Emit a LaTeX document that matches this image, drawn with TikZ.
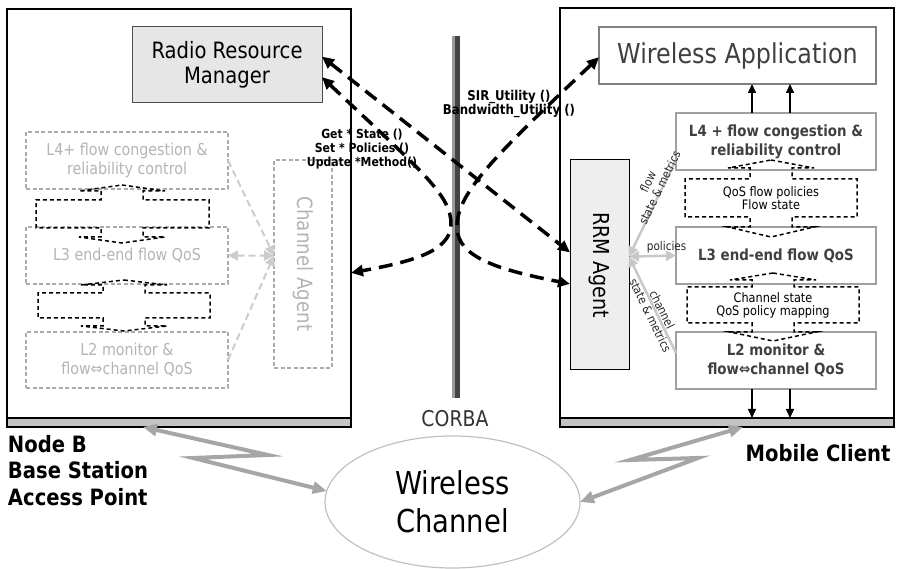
\documentclass[tikz,border=0pt]{standalone}
\usepackage{fontspec}
\setmainfont{DejaVu Sans}[FakeStretch=0.87]
\usetikzlibrary{arrows.meta,calc,shapes.geometric}
\definecolor{lgtext}{HTML}{B4B4B4}
\definecolor{lgline}{HTML}{AAAAAA}
\definecolor{rline}{HTML}{A0A0A0}
\definecolor{dtext}{HTML}{404040}
\definecolor{boxfill}{HTML}{E6E6E6}
\definecolor{agfill}{HTML}{EEEEEE}
\definecolor{garr}{HTML}{C8C8C8}
\definecolor{gdashc}{HTML}{CCCCCC}
\definecolor{zigc}{HTML}{A6A6A6}
\definecolor{barfill}{HTML}{C4C4C4}
\definecolor{ellc}{HTML}{C0C0C0}
\definecolor{corbad}{HTML}{444444}
\definecolor{corbal}{HTML}{9A9A9A}
\newcommand{\setfs}[2]{\fontsize{#1}{#2}\selectfont}
\newcommand{\udcallout}[9]{%
  \draw[callout] (#1,#7) -- (#1+43,#6) -- (#1+21,#6) -- (#1+21,#4) -- (#3,#4) -- (#3,#5)
    -- (#1+21,#5) -- (#1+21,#8) -- (#1+43,#8) -- (#1,#9) -- (#1-43,#8) -- (#1-21,#8)
    -- (#1-21,#5) -- (#2,#5) -- (#2,#4) -- (#1-21,#4) -- (#1-21,#6) -- (#1-43,#6) -- cycle;}
\begin{document}
\begin{tikzpicture}[x=1pt,y=-1pt,
  every node/.style={inner sep=0pt, outer sep=0pt},
  frame/.style={draw=black, line width=2pt},
  basebar/.style={draw=black, fill=barfill, line width=1.2pt},
  lbox/.style={draw=lgline, line width=1.5pt, dash pattern=on 4pt off 2.5pt, text=lgtext, align=center, font=\setfs{16.4}{19}},
  rbox/.style={draw=rline, line width=2.5pt, fill=white, text=dtext, align=center, font=\bfseries\setfs{15.4}{19}},
  callout/.style={draw=black, line width=1.5pt, dash pattern=on 4pt off 3pt},
  bigdash/.style={draw=black, line width=3.5pt, dash pattern=on 14pt off 8pt, {Triangle[length=12pt,width=11pt]}-{Triangle[length=12pt,width=11pt]}},
  garrowR/.style={draw=garr, line width=2.5pt, -{Triangle[length=10pt,width=10pt]}},
  garrowB/.style={draw=garr, line width=2.5pt, {Triangle[length=10pt,width=10pt]}-{Triangle[length=10pt,width=10pt]}},
  gdashR/.style={draw=gdashc, line width=2pt, dash pattern=on 7pt off 4pt, -{Triangle[length=10pt,width=10pt]}},
  gdashB/.style={draw=gdashc, line width=2pt, dash pattern=on 7pt off 4pt, {Triangle[length=10pt,width=10pt]}-{Triangle[length=10pt,width=10pt]}},
  blk/.style={draw=black, line width=1.5pt, -{Triangle[length=9pt,width=8pt]}},
  zig/.style={draw=zigc, line width=4pt, {Triangle[length=14pt,width=12pt]}-{Triangle[length=14pt,width=12pt]}},
  lbl/.style={font=\setfs{12}{13}, text=black!85, align=center},
  mlbl/.style={font=\bfseries\setfs{12.5}{14}, text=black, align=center}
]
\useasboundingbox (0,0) rectangle (898,569);

% panels
\node[frame, minimum width=344pt, minimum height=409pt] (lp) at (179,213.5) {};
\node[basebar, minimum width=344pt, minimum height=9pt] (lb) at (179,422.5) {};
\node[frame, minimum width=334pt, minimum height=410pt] (rp) at (727,213) {};
\node[basebar, minimum width=334pt, minimum height=9pt] (rb) at (727,422.5) {};

% CORBA bus
\node[fill=corbad, minimum width=8pt, minimum height=362pt] (cb) at (456,217) {};
\fill[corbal] (cb.north west) rectangle ([xshift=2.5pt]cb.south west);
\node[text=black!80, font=\setfs{21.7}{26}] (corba) at (455,419) {CORBA};

% left side
\node[draw=black!70, fill=boxfill, line width=1pt, minimum width=190pt, minimum height=76pt, align=center, font=\setfs{22.5}{25}] (rrm) at (227,65) {Radio Resource\\Manager};
\node[lbox, minimum width=202pt, minimum height=57pt] (l4L) at (127,160.5) {L4+ flow congestion \&\\reliability control};
\node[lbox, minimum width=202pt, minimum height=57pt] (l3L) at (127,255.5) {L3 end-end flow QoS};
\node[lbox, minimum width=202pt, minimum height=56pt] (l2L) at (127,360) {L2 monitor \&\\flow⇔channel QoS};
\node[lbox, minimum width=58pt, minimum height=208pt] (ca) at (303,264) {};
\node[text=lgtext, rotate=-90, font=\setfs{21}{25}] (caT) at (ca.center) {Channel Agent};

% right side
\node[draw=black!50, line width=1.2pt, minimum width=277pt, minimum height=57pt, text=dtext, font=\setfs{27.4}{32}] (wa) at (737.5,55.5) {Wireless Application};
\node[rbox, minimum width=200pt, minimum height=57pt] (l4R) at (776,141.5) {L4 + flow congestion \&\\reliability control};
\node[rbox, minimum width=200pt, minimum height=57pt] (l3R) at (776,255.5) {L3 end-end flow QoS};
\node[rbox, minimum width=200pt, minimum height=57pt] (l2R) at (776,360.5) {L2 monitor \&\\flow⇔channel QoS};
\node[draw=black, fill=agfill, line width=1pt, minimum width=59pt, minimum height=210pt] (agent) at (599.5,265) {};
\node[rotate=-90, font=\setfs{22}{26}] (agentT) at (agent.center) {RRM Agent};

% wireless channel
\node[ellipse, draw=ellc, line width=1.2pt, minimum width=255pt, minimum height=132pt, align=center, font=\setfs{31.5}{38}] (ell) at (452.5,502) {Wireless\\Channel};

% up/down callouts
\udcallout{122}{36}{209}{200}{228}{191}{185}{237}{243}
\udcallout{124}{38}{210}{293}{318}{285}{280}{326}{331}
\udcallout{771}{685}{857}{179}{217}{168}{160}{227}{237}
\udcallout{773}{687}{859}{287}{323}{280}{273}{332}{341}
\node[font=\setfs{13}{13}, align=center] (cq1) at (771,198) {QoS flow policies\\Flow state};
\node[font=\setfs{13}{13}, align=center] (cq2) at (773,305) {Channel state\\QoS policy mapping};

% coordinates on borders
\coordinate (rrmA) at ($(rrm.north east)!0.39!(rrm.south east)$);
\coordinate (rrmB) at ($(rrm.north east)!0.66!(rrm.south east)$);
\coordinate (agA) at ($(agent.north west)!0.44!(agent.south west)$);
\coordinate (agB) at ($(agent.north west)!0.59!(agent.south west)$);
\coordinate (waA) at ($(wa.north west)!0.53!(wa.south west)$);
\coordinate (lpA) at ($(lp.north east)!0.645!(lp.south east)$);
\coordinate (ag) at ($(agent.north east)!0.46!(agent.south east)$);
\coordinate (l4Rc) at ($(l4R.north west)!0.82!(l4R.south west)$);
\coordinate (l2Rc) at ($(l2R.north west)!0.37!(l2R.south west)$);
\coordinate (caC) at ($(ca.north west)!0.46!(ca.south west)$);
\coordinate (u1) at (752,0);
\coordinate (u2) at (790,0);
\coordinate (z1) at (143,0);
\coordinate (z2) at (743,0);

% left gray dashed arrows
\draw[gdashR] (l4L.east) -- (caC);
\draw[gdashB] (l3L.east) -- (caC);
\draw[gdashR] (l2L.east) -- (caC);

% right gray arrows
\draw[garrowR] (l4Rc) -- node[pos=0.3, sloped, above=-2pt, lbl] (lflow) {flow\\state \& metrics} (ag);
\draw[garrowB] (ag) -- node[pos=0.8, above=3pt, lbl] (lpol) {policies} (l3R.west);
\draw[garrowR] (l2Rc) -- node[pos=0.42, sloped, lbl] (lchan) {channel\\state \& metrics} (ag);

% vertical black arrows
\draw[blk] (l4R.north -| u1) -- (wa.south -| u1);
\draw[blk] (l4R.north -| u2) -- (wa.south -| u2);
\draw[blk] (l2R.south -| u1) -- (rb.north -| u1);
\draw[blk] (l2R.south -| u2) -- (rb.north -| u2);

% CORBA calls
\draw[bigdash] (rrmA) -- (agA);
\draw[bigdash] (rrmB) .. controls (420,170) and (452,195) .. (451,225) .. controls (450,252) and (410,262) .. (lpA);
\draw[bigdash] (waA) .. controls (490,160) and (456,195) .. (457,228) .. controls (458,258) and (500,270) .. (agB);

\node[mlbl] (calls1) at (362,149) {Get * State ()\\Set * Policies ()\\Update *Method()};
\node[mlbl, font=\bfseries\setfs{13.5}{14}] (calls2) at (509,104) {SIR\_Utility ()\\Bandwidth\_Utility ()};

% radio links
\draw[zig] (lb.south -| z1) -- (268,455) -- (193,458) -- (ell.175);
\draw[zig] (rb.south -| z2) -- (630,460) -- (698,458) -- (ell.east);

% captions
\node[anchor=north west, align=left, font=\bfseries\setfs{22.5}{26.5}] (nodeb) at (8,435) {Node B\\Base Station\\Access Point};
\node[font=\bfseries\setfs{22.5}{26}] (mobile) at (818,453) {Mobile Client};
\end{tikzpicture}
\end{document}
